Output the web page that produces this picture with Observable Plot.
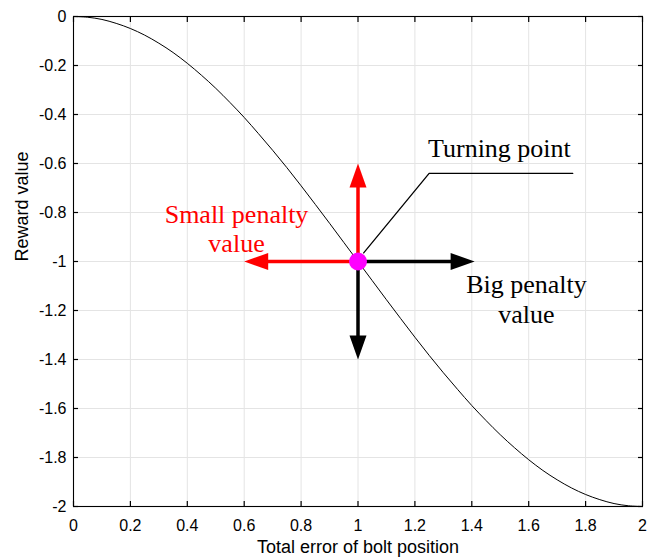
<!DOCTYPE html>
<html><head><meta charset="utf-8">
<script src="https://cdn.jsdelivr.net/npm/d3@7"></script>
<script src="https://cdn.jsdelivr.net/npm/@observablehq/plot@0.6"></script>
<style>body{margin:0;background:#fff}</style>
</head><body><div id="chart"></div>
<script>
// Curve
const errX = [0,0.05,0.1,0.15,0.2,0.25,0.3,0.35,0.4,0.45,0.5,0.55,0.6,0.65,0.7,0.75,0.8,0.85,0.9,0.95,1,
  1.05,1.1,1.15,1.2,1.25,1.3,1.35,1.4,1.45,1.5,1.55,1.6,1.65,1.7,1.75,1.8,1.85,1.9,1.95,2];
const reward = [0,-0.003,-0.012,-0.028,-0.049,-0.076,-0.109,-0.147,-0.191,-0.240,-0.293,-0.351,-0.412,-0.478,-0.546,-0.617,-0.691,-0.767,-0.844,-0.922,-1,
  -1.078,-1.156,-1.233,-1.309,-1.383,-1.454,-1.522,-1.588,-1.649,-1.707,-1.760,-1.809,-1.853,-1.891,-1.924,-1.951,-1.972,-1.988,-1.997,-2];
const xTicks = [0,0.2,0.4,0.6,0.8,1,1.2,1.4,1.6,1.8,2];
const xTickLabels = ["0","0.2","0.4","0.6","0.8","1","1.2","1.4","1.6","1.8","2"];
const yTicks = [0,-0.2,-0.4,-0.6,-0.8,-1,-1.2,-1.4,-1.6,-1.8,-2];
const yTickLabels = ["0","-0.2","-0.4","-0.6","-0.8","-1","-1.2","-1.4","-1.6","-1.8","-2"];
const xLabel = "Total error of bolt position";
const yLabel = "Reward value";

// Annotations (data coordinates)
const turningPoint = [{x: 1, y: -1}];
const redTips = [{x: 1, y: -0.6}, {x: 0.6, y: -1}];
const blackTips = [{x: 1.41, y: -1}, {x: 1, y: -1.4}];
const leader = [{x: 1.02, y: -0.965}, {x: 1.25, y: -0.64}, {x: 1.755, y: -0.64}];
const labelTurning = [{x: 1.497, y: -0.5755, text: "Turning point"}];
const labelSmall = [{x: 0.573, y: -0.963, text: "Small penalty\nvalue"}];
const labelBig = [{x: 1.592, y: -1.25, text: "Big penalty\nvalue"}];

const curve = errX.map((x, i) => ({x, y: reward[i]}));
const tp = turningPoint[0];
const rot = d => d.x > tp.x ? 90 : d.x < tp.x ? 270 : d.y > tp.y ? 0 : 180;
const head = {draw(ctx) { ctx.moveTo(0, 0); ctx.lineTo(8.5, 24); ctx.lineTo(-8.5, 24); ctx.closePath(); }};

const sans = "'Liberation Sans', Arial, Helvetica, sans-serif";
const serif = "'Liberation Serif', 'Times New Roman', serif";

const chart = Plot.plot({
  width: 655, height: 559,
  marginLeft: 73, marginRight: 13, marginTop: 16, marginBottom: 53,
  x: {domain: [0, 2]},
  y: {domain: [-2, 0]},
  style: {fontFamily: sans, fontSize: "16px", color: "black", background: "white"},
  marks: [
    Plot.gridX(xTicks, {stroke: "#e4e4e4", strokeOpacity: 1}),
    Plot.gridY(yTicks, {stroke: "#e4e4e4", strokeOpacity: 1}),
    Plot.line(curve, {x: "x", y: "y", stroke: "black", strokeWidth: 1, curve: "catmull-rom"}),
    Plot.line(leader, {x: "x", y: "y", stroke: "black", strokeWidth: 1.3}),
    Plot.arrow(redTips, {x1: () => tp.x, y1: () => tp.y, x2: "x", y2: "y", headLength: 0, insetEnd: 18, stroke: "#ff0000", strokeWidth: 3.5, strokeLinecap: "butt"}),
    Plot.arrow(blackTips, {x1: () => tp.x, y1: () => tp.y, x2: "x", y2: "y", headLength: 0, insetEnd: 18, stroke: "black", strokeWidth: 3.5, strokeLinecap: "butt"}),
    Plot.dot(redTips, {x: "x", y: "y", symbol: head, rotate: rot, fill: "#ff0000", stroke: "none"}),
    Plot.dot(blackTips, {x: "x", y: "y", symbol: head, rotate: rot, fill: "black", stroke: "none"}),
    Plot.dot(turningPoint, {x: "x", y: "y", r: 9, fill: "#ff00ff", stroke: "none"}),
    Plot.frame({stroke: "black", strokeWidth: 1.1}),
    Plot.axisX({anchor: "bottom", ticks: xTicks, tickSize: 0, tickPadding: 13, fontSize: 16, tickFormat: (d, i) => xTickLabels[i], label: null}),
    Plot.axisX({anchor: "bottom", ticks: xTicks, tickSize: -5, strokeWidth: 1.2, tickFormat: () => "", label: null}),
    Plot.axisX({anchor: "top", ticks: xTicks, tickSize: -5, strokeWidth: 1.2, tickFormat: () => "", label: null}),
    Plot.axisY({anchor: "left", ticks: yTicks, tickSize: 0, tickPadding: 7, fontSize: 16, tickFormat: (d, i) => yTickLabels[i], label: null}),
    Plot.axisY({anchor: "left", ticks: yTicks, tickSize: -5, strokeWidth: 1.2, tickFormat: () => "", label: null}),
    Plot.axisY({anchor: "right", ticks: yTicks, tickSize: -5, strokeWidth: 1.2, tickFormat: () => "", label: null}),
    Plot.text([xLabel], {text: d => d, frameAnchor: "bottom", dy: 46, fontSize: 18, fill: "black"}),
    Plot.text([yLabel], {text: d => d, frameAnchor: "left", dx: -51, rotate: -90, fontSize: 18, fill: "black"}),
    Plot.text(labelTurning, {x: "x", y: "y", text: "text", fontFamily: serif, fontSize: 26, lineAnchor: "bottom", fill: "black"}),
    Plot.text(labelSmall, {x: "x", y: "y", text: "text", fontFamily: serif, fontSize: 26, lineHeight: 1.15, lineAnchor: "bottom", fill: "#ff0000"}),
    Plot.text(labelBig, {x: "x", y: "y", text: "text", fontFamily: serif, fontSize: 26, lineHeight: 1.15, lineAnchor: "bottom", fill: "black"})
  ]
});
document.getElementById("chart").append(chart);
</script>
</body></html>
